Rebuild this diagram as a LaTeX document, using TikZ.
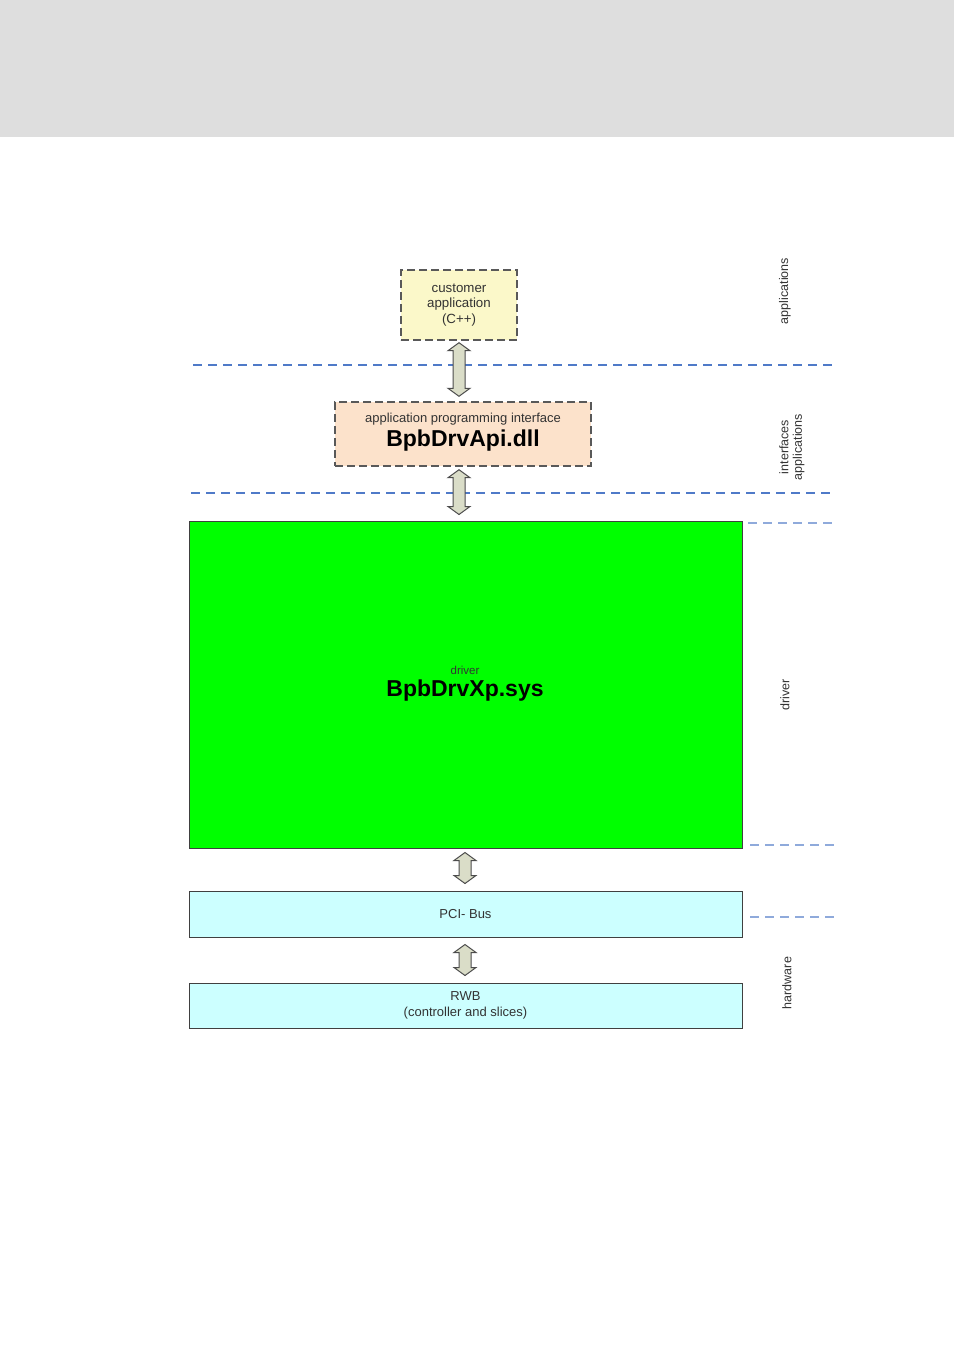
\documentclass[tikz,border=0pt]{standalone}
\usepackage{fontspec}
\setmainfont{Liberation Sans}
\usetikzlibrary{calc}
\definecolor{hdr}{HTML}{DEDEDE}
\definecolor{custfill}{HTML}{FBF8C9}
\definecolor{apifill}{HTML}{FCE2CB}
\definecolor{drvfill}{HTML}{00FF00}
\definecolor{hwfill}{HTML}{CCFFFF}
\definecolor{dashblue}{HTML}{4F7AC8}
\definecolor{dashlight}{HTML}{8FAADB}
\definecolor{arrfill}{HTML}{DADDC8}
\definecolor{txt}{HTML}{333333}
\tikzset{
  dashbox/.style={draw=black!65, line width=1.4pt, dash pattern=on 8pt off 4pt, inner sep=0pt, align=center, text=txt},
  solidbox/.style={draw=black!75, line width=1pt, inner sep=0pt, align=center, text=txt},
  sep/.style={draw=dashblue, line width=1.1pt, dash pattern=on 9pt off 6pt},
  seplight/.style={draw=dashlight, line width=1.3pt, dash pattern=on 9pt off 6pt},
  sidelabel/.style={rotate=90, align=center, text=txt, font=\fontsize{12.5}{13.5}\selectfont},
  barrowstyle/.style={draw=black!70, fill=arrfill, line width=1pt, line join=miter}
}
% #1 upper node, #2 lower node, #3 gap below #1, #4 gap above #2, #5 x shift
\newcommand\barrow[5]{%
  \draw[barrowstyle] let \p1=($(#1.south)+(#5,#3)$), \p2=($(#2.north)+(0,-#4)$) in
    (\x1,\y1) -- (\x1+11pt,\y1-8pt) -- (\x1+6pt,\y1-8pt) -- (\x1+6pt,\y2+8pt) -- (\x1+11pt,\y2+8pt)
    -- (\x1,\y2) -- (\x1-11pt,\y2+8pt) -- (\x1-6pt,\y2+8pt) -- (\x1-6pt,\y1-8pt) -- (\x1-11pt,\y1-8pt) -- cycle;}
\begin{document}
\begin{tikzpicture}[x=1pt,y=-1pt]
\useasboundingbox (0,0) rectangle (954,1350);
\fill[white] (0,0) rectangle (954,1350);
\fill[hdr] (0,0) rectangle (954,137);

% separators
\draw[sep] (193,365) -- (837,365);
\draw[sep] (191,493) -- (835,493);
\draw[seplight] (748,523) -- (835,523);
\draw[seplight] (750,845) -- (835,845);
\draw[seplight] (750,917) -- (835,917);

% boxes
\node[dashbox, fill=custfill, minimum width=116pt, minimum height=70pt, font=\fontsize{13.3}{15.5}\selectfont]
  (cust) at (459,305) {customer\\application\\(C++)};
\node[dashbox, fill=apifill, minimum width=256pt, minimum height=64pt]
  (api) at (463,434) {};
\node[text=txt, font=\fontsize{13}{14}\selectfont] (apismall) at (463,419) {application programming interface};
\node[text=black, font=\bfseries\fontsize{23}{25}\selectfont] (apibig) at (463,441) {BpbDrvApi.dll};

\node[solidbox, fill=drvfill, minimum width=553pt, minimum height=327pt] (drv) at (465.5,684.5) {};
\node[text=txt, font=\fontsize{11.5}{12}\selectfont] (drvsmall) at (465,670) {driver};
\node[text=black, font=\bfseries\fontsize{23}{25}\selectfont] (drvbig) at (465,691) {BpbDrvXp.sys};

\node[solidbox, fill=hwfill, minimum width=553pt, minimum height=46pt, font=\fontsize{13}{14}\selectfont]
  (pci) at (465.5,914) {PCI- Bus};
\node[solidbox, fill=hwfill, minimum width=553pt, minimum height=45pt, font=\fontsize{13}{16}\selectfont]
  (rwb) at (465.5,1005.5) {RWB\\(controller and slices)};

% block arrows
\barrow{cust}{api}{2}{5}{0}
\barrow{api}{drv}{3}{6}{-4}
\barrow{drv}{pci}{4}{7}{-0.5}
\barrow{pci}{rwb}{7}{7}{-0.5}

% side labels
\node[sidelabel] (lapp) at (785,291) {applications};
\node[sidelabel] (lint) at (792,447) {interfaces\\applications};
\node[sidelabel] (ldrv) at (785,695) {driver};
\node[sidelabel] (lhw) at (787,983) {hardware};
\end{tikzpicture}
\end{document}
